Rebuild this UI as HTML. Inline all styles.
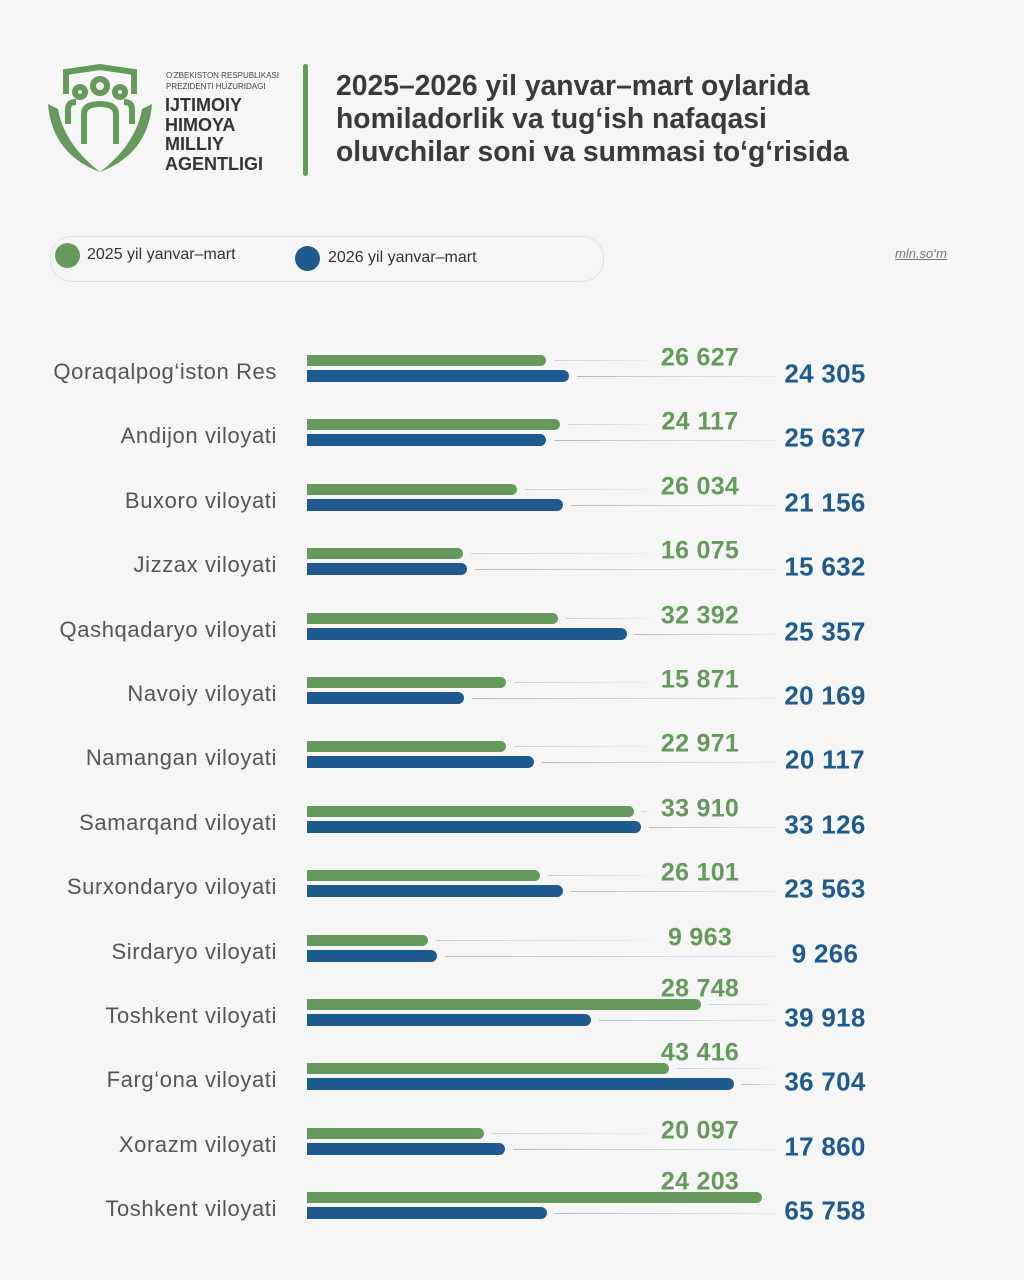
<!DOCTYPE html>
<html><head><meta charset="utf-8"><style>
body{margin:0;width:1024px;height:1280px;background:#f6f6f6;font-family:"Liberation Sans",sans-serif;position:relative;overflow:hidden}
.a{position:absolute;white-space:nowrap}
.lab{right:747px;font-size:22px;letter-spacing:0.6px;color:#555;transform:translateY(-50%)}
.bar{position:absolute;left:307px;border-radius:0 7px 7px 0}
.g{background:#66995c}.b{background:#1f5a8e}
.ln{position:absolute;height:1px}
.gl{background:linear-gradient(90deg,#c8d2d8,#eef0f0)}
.bl{background:linear-gradient(90deg,#a8bccc,#e8ecef)}
.vg{font-size:25px;font-weight:bold;color:#66995c;transform:translate(-50%,-50%);letter-spacing:0.3px}
.vb{font-size:26px;font-weight:bold;color:#1f5a8e;transform:translate(-50%,-50%);letter-spacing:0.3px}
</style></head><body>
<svg class="a" style="left:44px;top:64px" width="112" height="112" viewBox="0 0 112 112">
<g fill="none" stroke="#66995c" stroke-width="6">
<path d="M22 30 V8 L56 3 L90 8 V30"/>
<circle cx="56" cy="22" r="7"/><circle cx="36" cy="28" r="5"/><circle cx="76" cy="28" r="5"/>
<path d="M40 80 V50 Q40 40 56 40 Q72 40 72 50 V80"/>
<path d="M24 60 V45 Q24 38 32 38"/><path d="M88 60 V45 Q88 38 80 38"/>
</g>
<path d="M4 40 Q8 90 56 108 Q20 80 14 45Z M108 40 Q104 90 56 108 Q92 80 98 45Z" fill="#66995c"/>
</svg>
<div class="a" style="left:166px;top:70px;font-size:8px;color:#444;line-height:11px">O'ZBEKISTON RESPUBLIKASI<br>PREZIDENTI HUZURIDAGI</div>
<div class="a" style="left:165px;top:96px;font-size:18px;font-weight:bold;color:#333;line-height:19.5px">IJTIMOIY<br>HIMOYA<br>MILLIY<br>AGENTLIGI</div>
<div class="a" style="left:303px;top:64px;width:5px;height:112px;background:#66995c;border-radius:3px"></div>
<div class="a" style="left:336px;top:69px;font-size:28.3px;font-weight:bold;color:#3a3a3a;line-height:33px">2025–2026 yil yanvar–mart oylarida<br>homiladorlik va tug‘ish nafaqasi<br>oluvchilar soni va summasi to‘g‘risida</div>
<div class="a" style="left:50px;top:236px;width:552px;height:44px;border:1px solid #e2e2e2;border-radius:22px"></div>
<div class="a" style="left:55px;top:243px;width:25px;height:25px;border-radius:50%;background:#66995c"></div>
<div class="a" style="left:87px;top:246px;font-size:16px;color:#333">2025 yil yanvar–mart</div>
<div class="a" style="left:295px;top:246px;width:25px;height:25px;border-radius:50%;background:#1f5a8e"></div>
<div class="a" style="left:328px;top:249px;font-size:16px;color:#333">2026 yil yanvar–mart</div>
<div class="a" style="left:895px;top:246px;font-size:13px;color:#777;font-style:italic;text-decoration:underline">mln.so‘m</div>
<div id="rows"></div>
<script>
var d=[["Qoraqalpog‘iston Res",546,569,"26 627","24 305",0],["Andijon viloyati",560,546,"24 117","25 637",0],["Buxoro viloyati",517,563,"26 034","21 156",0],["Jizzax viloyati",463,467,"16 075","15 632",0],["Qashqadaryo viloyati",558,627,"32 392","25 357",0],["Navoiy viloyati",506,464,"15 871","20 169",0],["Namangan viloyati",506,534,"22 971","20 117",0],["Samarqand viloyati",634,641,"33 910","33 126",0],["Surxondaryo viloyati",540,563,"26 101","23 563",0],["Sirdaryo viloyati",428,437,"9 963","9 266",0],["Toshkent viloyati",701,591,"28 748","39 918",13],["Farg‘ona viloyati",669,734,"43 416","36 704",13],["Xorazm viloyati",484,505,"20 097","17 860",0],["Toshkent viloyati",762,547,"24 203","65 758",13]];
var h="";
d.forEach(function(r,i){var c=372+i*64.4;
h+='<div class="a lab" style="top:'+c+'px">'+r[0]+'</div>';
h+='<div class="bar g" style="top:'+(c-17)+'px;width:'+(r[1]-307)+'px;height:11px"></div>';
h+='<div class="bar b" style="top:'+(c-2)+'px;width:'+(r[2]-307)+'px;height:12px"></div>';
if(r[1]<640)h+='<div class="ln gl" style="top:'+(c-12)+'px;left:'+(r[1]+8)+'px;width:'+(650-r[1]-8)+'px"></div>';
else h+='<div class="ln gl" style="top:'+(c-12)+'px;left:'+(r[1]+8)+'px;width:'+(770-r[1]-8)+'px"></div>';
h+='<div class="ln bl" style="top:'+(c+4)+'px;left:'+(r[2]+8)+'px;width:'+(775-r[2]-8)+'px"></div>';
h+='<div class="a vg" style="left:700px;top:'+(c-14-r[5])+'px">'+r[3]+'</div>';
h+='<div class="a vb" style="left:825px;top:'+(c+2)+'px">'+r[4]+'</div>';});
document.getElementById("rows").innerHTML=h;
</script>
</body></html>
